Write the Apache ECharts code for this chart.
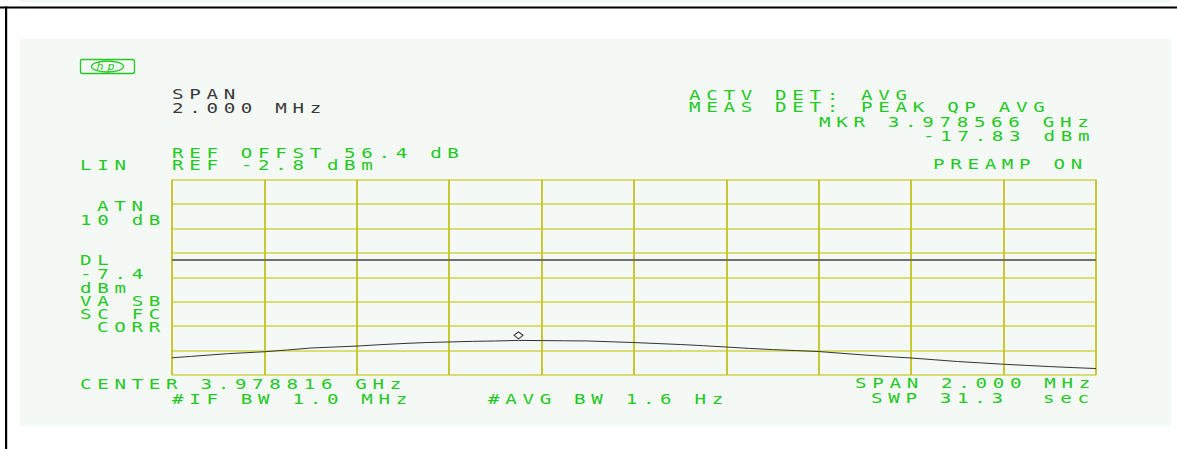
<!DOCTYPE html>
<html>
<head>
<meta charset="utf-8">
<script src="https://cdn.jsdelivr.net/npm/echarts@6/dist/echarts.min.js"></script>
<style>
html, body { margin: 0; padding: 0; background: #fff; }
#chart { width: 1177px; height: 449px; }
#chart text { letter-spacing: 4px; }
</style>
</head>
<body>
<div id="chart"></div>
<script>
// trace: offset from center (kHz) and level in % of ref (LIN scale)
var traceKhz = [-1000, -960, -920, -880, -840, -800, -750, -700, -650, -600, -550, -500, -450, -400, -350, -300,
    -250, -200, -150, -100, -50, 0, 50, 100, 150, 200, 250, 300, 350, 400, 450, 500, 550, 600,
    650, 700, 750, 800, 850, 900, 950, 1000];
var tracePct = [8.8, 9.5, 10.2, 10.9, 11.4, 11.9, 12.8, 13.8, 14.3, 14.8, 15.5, 16.1, 16.6, 16.9, 17.2, 17.4,
    17.7, 17.6, 17.5, 17.4, 17.0, 16.6, 16.1, 15.6, 15.0, 14.3, 13.6, 13.0, 12.5, 12.0, 11.1, 10.2, 9.4, 8.7,
    7.8, 6.9, 6.2, 5.5, 4.9, 4.3, 3.8, 3.3];

var refDbm = -2.8;
var dlDbm = -7.4;
var mkrKhz = -250;
var mkrDbm = -17.83;

var topLeftBlack = ['SPAN', '2.000 MHz'];
var detLines = ['ACTV DET: AVG', 'MEAS DET: PEAK QP AVG'];
var mkrLines = ['MKR 3.978566 GHz', '-17.83 dBm'];
var refLines = ['REF OFFST 56.4 dB', 'REF -2.8 dBm'];
var sideLines = ['ATN', '10 dB', 'DL', '-7.4', 'dBm', 'VA SB', 'SC FC', 'CORR'];
var bottomLines = ['CENTER 3.978816 GHz', '#IF BW 1.0 MHz', '#AVG BW 1.6 Hz', 'SPAN 2.000 MHz', 'SWP 31.3  sec'];

var GREEN = '#24c824';
var DARK = '#3a3a3a';
var FONT = '13.5px "DejaVu Sans Mono"';

function dbmToPct(d) {
    // linear (voltage) scale relative to the reference level
    return 100 * Math.pow(10, (d - refDbm) / 20);
}

// y is the top of the capitals
function txt(str, x, y, color) {
    return {
        type: 'text', x: x, y: y - 1.5, scaleX: 1.42, silent: true,
        style: { text: str, fill: color, font: FONT, textAlign: 'left', textBaseline: 'top' }
    };
}

var traceData = [];
for (var i = 0; i < traceKhz.length; i++) {
    traceData.push([traceKhz[i], tracePct[i]]);
}

var graphics = [
    { type: 'rect', silent: true, z: -10, shape: { x: 20, y: 0, width: 1151, height: 2 }, style: { fill: '#f3f8f4' } },
    { type: 'rect', silent: true, z: -10, shape: { x: 20, y: 39, width: 1151, height: 387 }, style: { fill: '#f4f9f5' } },
    { type: 'rect', silent: true, shape: { x: 0, y: 6.5, width: 1177, height: 2 }, style: { fill: '#000' } },
    { type: 'rect', silent: true, shape: { x: 5, y: 6.5, width: 2.2, height: 443 }, style: { fill: '#000' } },
    // hp logo
    { type: 'rect', silent: true, shape: { x: 80.5, y: 59.5, width: 54, height: 14, r: 2 }, style: { fill: 'none', stroke: GREEN, lineWidth: 1.3 } },
    { type: 'ellipse', silent: true, shape: { cx: 107.5, cy: 66.5, rx: 16, ry: 5.5 }, style: { fill: 'none', stroke: GREEN, lineWidth: 1.3 } },
    { type: 'text', silent: true, x: 107.5, y: 60.5, style: { text: 'hp', fill: GREEN, font: 'italic 11px "DejaVu Sans"', textAlign: 'center', textBaseline: 'top' } },

    txt(topLeftBlack[0], 172, 89, DARK),
    txt(topLeftBlack[1], 172, 103, DARK),
    txt(detLines[0], 689, 90, GREEN),
    txt(detLines[1], 689, 102, GREEN),
    txt(mkrLines[0], 819, 117, GREEN),
    txt(mkrLines[1], 923, 131, GREEN),
    txt(refLines[0], 172, 148, GREEN),
    txt('LIN', 80, 160, GREEN),
    txt(refLines[1], 172, 160, GREEN),
    txt('PREAMP ON', 933, 159, GREEN),
    txt(sideLines[0], 97, 201.5, GREEN),
    txt(sideLines[1], 80, 215.5, GREEN),
    txt(sideLines[2], 80, 255, GREEN),
    txt(sideLines[3], 80, 269, GREEN),
    txt(sideLines[4], 80, 283, GREEN),
    txt(sideLines[5], 80, 296, GREEN),
    txt(sideLines[6], 80, 309.5, GREEN),
    txt(sideLines[7], 97, 322.5, GREEN),
    txt(bottomLines[0], 80, 379, GREEN),
    txt(bottomLines[1], 172, 394, GREEN),
    txt(bottomLines[2], 488, 394.5, GREEN),
    txt(bottomLines[3], 855, 378, GREEN),
    txt(bottomLines[4], 871, 393.5, GREEN)
];

var chart = echarts.init(document.getElementById('chart'), null, { renderer: 'svg' });
chart.setOption({
    animation: false,
    backgroundColor: '#fff',
    grid: { left: 172, top: 179.5, width: 924, height: 195.5 },
    xAxis: {
        type: 'value', min: -1000, max: 1000, interval: 200,
        axisLine: { show: false }, axisTick: { show: false }, axisLabel: { show: false },
        splitLine: { show: true, lineStyle: { color: '#c8c834', width: 2 } }
    },
    yAxis: {
        type: 'value', min: 0, max: 100, interval: 12.5,
        axisLine: { show: false }, axisTick: { show: false }, axisLabel: { show: false },
        splitLine: { show: true, lineStyle: { color: '#d2d24c', width: 1.5 } }
    },
    graphic: graphics,
    series: [{
        type: 'line',
        data: traceData,
        symbol: 'none',
        lineStyle: { color: '#333', width: 1 },
        markLine: {
            silent: true, symbol: 'none',
            label: { show: false },
            lineStyle: { color: '#707070', width: 2, type: 'solid' },
            data: [{ yAxis: dbmToPct(dlDbm) }]
        },
        markPoint: {
            silent: true,
            symbol: 'diamond', symbolSize: [9, 7], symbolOffset: [0, -5],
            itemStyle: { color: 'rgba(0,0,0,0)', borderColor: '#333', borderWidth: 1 },
            label: { show: false },
            data: [{ coord: [mkrKhz, dbmToPct(mkrDbm)] }]
        }
    }]
});
</script>
</body>
</html>
